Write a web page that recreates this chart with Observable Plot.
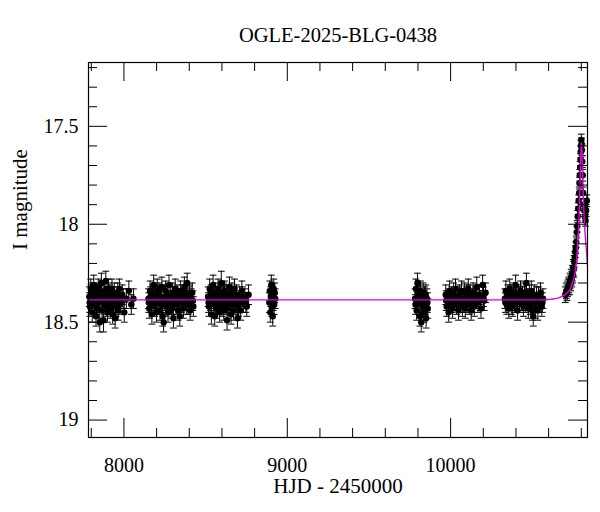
<!DOCTYPE html>
<html><head><meta charset="utf-8">
<script src="https://cdn.jsdelivr.net/npm/d3@7"></script>
<script src="https://cdn.jsdelivr.net/npm/@observablehq/plot@0.6"></script>
<style>
body{margin:0;background:#fff;font-family:"Liberation Serif",serif;}
#wrap{position:relative;width:600px;height:512px;}
#title{position:absolute;left:88px;width:500px;top:25px;line-height:20px;font-size:20.5px;font-family:"Liberation Serif",serif;text-align:center;color:#000;}
</style></head><body>
<div id="wrap"><div id="chart"></div><div id="title">OGLE-2025-BLG-0438</div></div>
<script>
// Observations: [HJD-2450000, I mag, error] triples, per season
const season1 = [7788,18.37,.05, 7792,18.42,.05, 7797,18.33,.05, 7801,18.39,.04, 7806,18.45,.05, 7811,18.36,.05, 7815,18.31,.05, 7820,18.41,.05, 7825,18.35,.04, 7829,18.47,.05, 7834,18.38,.05, 7839,18.43,.05, 7843,18.32,.04, 7848,18.40,.05, 7852,18.50,.05, 7857,18.36,.05, 7862,18.30,.05, 7866,18.44,.05, 7871,18.39,.05, 7875,18.49,.06, 7880,18.34,.05, 7885,18.41,.05, 7889,18.29,.05, 7894,18.37,.04, 7899,18.45,.05, 7903,18.33,.05, 7908,18.40,.05, 7913,18.36,.05, 7917,18.43,.05, 7922,18.38,.05, 7927,18.33,.05, 7931,18.46,.05, 7936,18.40,.05, 7941,18.35,.05, 7946,18.48,.05, 7952,18.42,.05, 7958,18.37,.05, 7965,18.44,.05, 7972,18.33,.05, 7980,18.40,.05, 7990,18.36,.05, 8002,18.45,.05, 8015,18.38,.05, 8030,18.34,.05, 8045,18.41,.05, 8058,18.38,.05,
  7790,18.40,.05, 7799,18.36,.05, 7809,18.40,.05, 7818,18.38,.05, 7832,18.41,.05, 7846,18.35,.05, 7860,18.39,.05, 7878,18.37,.05, 7892,18.42,.05, 7906,18.35,.05, 7920,18.41,.05, 7934,18.37,.05, 7949,18.39,.05, 7962,18.35,.05, 7976,18.41,.05, 7995,18.38,.05];
const season2 = [8150,18.38,.05, 8155,18.43,.05, 8160,18.34,.05, 8166,18.40,.05, 8171,18.46,.05, 8177,18.36,.05, 8182,18.31,.05, 8188,18.42,.05, 8193,18.37,.04, 8199,18.45,.05, 8204,18.33,.05, 8210,18.40,.05, 8215,18.35,.05, 8221,18.44,.05, 8226,18.38,.05, 8232,18.32,.05, 8237,18.47,.05, 8243,18.50,.05, 8248,18.39,.05, 8254,18.34,.05, 8259,18.42,.05, 8265,18.36,.05, 8270,18.45,.05, 8276,18.31,.05, 8281,18.40,.05, 8287,18.37,.05, 8292,18.43,.05, 8298,18.35,.05, 8303,18.48,.05, 8309,18.39,.05, 8314,18.33,.05, 8320,18.41,.05, 8325,18.36,.05, 8331,18.44,.05, 8336,18.38,.05, 8342,18.47,.05, 8347,18.34,.05, 8353,18.40,.05, 8358,18.36,.05, 8364,18.43,.05, 8370,18.32,.05, 8376,18.39,.05, 8382,18.35,.05, 8387,18.30,.05, 8393,18.41,.05, 8399,18.37,.05, 8405,18.44,.05, 8412,18.38,.05, 8418,18.35,.05, 8425,18.42,.05,
  8152,18.40,.05, 8163,18.37,.05, 8185,18.39,.05, 8207,18.36,.05, 8229,18.41,.05, 8251,18.37,.05, 8273,18.39,.05, 8295,18.41,.05, 8317,18.37,.05, 8339,18.40,.05, 8361,18.38,.05, 8384,18.41,.05, 8402,18.36,.05, 8422,18.39,.05];
const season3 = [8515,18.37,.05, 8520,18.42,.05, 8525,18.33,.05, 8530,18.39,.05, 8535,18.46,.05, 8540,18.36,.05, 8546,18.31,.05, 8551,18.41,.05, 8556,18.47,.05, 8561,18.35,.05, 8566,18.43,.05, 8571,18.38,.05, 8576,18.33,.05, 8581,18.40,.05, 8586,18.45,.05, 8591,18.36,.05, 8596,18.30,.06, 8601,18.42,.05, 8606,18.37,.05, 8611,18.44,.05, 8616,18.34,.05, 8621,18.40,.05, 8626,18.36,.05, 8631,18.49,.05, 8636,18.43,.05, 8641,18.38,.05, 8646,18.32,.05, 8651,18.41,.05, 8656,18.46,.05, 8661,18.35,.05, 8666,18.39,.05, 8671,18.44,.05, 8677,18.33,.05, 8683,18.40,.05, 8689,18.36,.05, 8695,18.48,.05, 8701,18.42,.05, 8708,18.37,.05, 8715,18.44,.05, 8722,18.34,.05, 8730,18.40,.05, 8740,18.38,.05, 8752,18.42,.05, 8763,18.36,.05,
  8518,18.40,.05, 8533,18.36,.05, 8549,18.38,.05, 8563,18.41,.05, 8579,18.37,.05, 8594,18.39,.05, 8609,18.35,.05, 8624,18.41,.05, 8639,18.36,.05, 8654,18.39,.05, 8669,18.37,.05, 8686,18.41,.05, 8704,18.39,.05, 8726,18.37,.05, 8746,18.40,.05];
const season4 = [8890,18.40,.05, 8893,18.34,.05, 8896,18.45,.05, 8899,18.37,.05, 8902,18.31,.05, 8905,18.42,.05, 8908,18.36,.05, 8911,18.47,.05, 8914,18.39,.05, 8917,18.33,.05, 8920,18.41,.05, 8923,18.35,.05, 8926,18.38,.05];
const season5 = [9782,18.38,.05, 9787,18.33,.05, 9792,18.44,.05, 9797,18.30,.05, 9802,18.40,.05, 9807,18.36,.05, 9812,18.47,.05, 9816,18.34,.05, 9820,18.50,.05, 9824,18.39,.05, 9828,18.42,.05, 9832,18.35,.05, 9836,18.45,.05, 9840,18.37,.05, 9845,18.41,.05, 9850,18.48,.05, 9855,18.38,.05, 9860,18.43,.05,
  9785,18.41,.05, 9800,18.37,.05, 9818,18.40,.05, 9834,18.39,.05, 9848,18.36,.05, 9858,18.40,.05];
const season6 = [9970,18.36,.05, 9976,18.42,.05, 9982,18.38,.04, 9988,18.45,.05, 9994,18.34,.05, 10000,18.40,.05, 10006,18.37,.05, 10012,18.43,.05, 10018,18.35,.05, 10024,18.39,.05, 10030,18.33,.05, 10036,18.41,.05, 10042,18.37,.05, 10048,18.44,.05, 10054,18.36,.05, 10060,18.40,.05, 10066,18.34,.05, 10072,18.42,.05, 10078,18.38,.05, 10084,18.35,.05, 10090,18.43,.05, 10096,18.37,.05, 10102,18.40,.05, 10108,18.33,.05, 10114,18.41,.05, 10120,18.36,.05, 10126,18.44,.05, 10132,18.38,.05, 10138,18.35,.05, 10145,18.42,.05, 10152,18.37,.05, 10160,18.32,.05, 10168,18.40,.05, 10176,18.36,.05, 10186,18.43,.05, 10196,18.31,.05, 10206,18.39,.05, 10214,18.35,.05,
  9973,18.39,.05, 9991,18.38,.05, 10009,18.40,.05, 10027,18.37,.05, 10045,18.39,.05, 10063,18.38,.05, 10081,18.40,.05, 10099,18.36,.05, 10117,18.39,.05, 10135,18.40,.05, 10156,18.38,.05, 10181,18.39,.05, 10201,18.37,.05];
const season7 = [10332,18.38,.05, 10338,18.34,.05, 10344,18.41,.05, 10350,18.36,.05, 10356,18.43,.05, 10362,18.33,.05, 10368,18.39,.05, 10374,18.36,.05, 10380,18.42,.05, 10386,18.35,.05, 10392,18.40,.05, 10398,18.31,.05, 10404,18.38,.05, 10410,18.44,.05, 10416,18.36,.05, 10422,18.40,.05, 10428,18.34,.05, 10434,18.39,.05, 10440,18.37,.05, 10446,18.42,.05, 10452,18.35,.05, 10458,18.40,.05, 10464,18.30,.05, 10470,18.38,.05, 10476,18.43,.05, 10482,18.36,.05, 10488,18.41,.05, 10494,18.34,.05, 10500,18.44,.05, 10506,18.47,.05, 10512,18.36,.05, 10518,18.43,.05, 10526,18.37,.05, 10534,18.44,.05, 10542,18.40,.05, 10550,18.35,.05, 10558,18.42,.05, 10566,18.38,.05,
  10335,18.40,.05, 10353,18.38,.05, 10371,18.41,.05, 10389,18.37,.05, 10407,18.39,.05, 10425,18.37,.05, 10443,18.39,.05, 10461,18.36,.05, 10479,18.39,.05, 10497,18.38,.05, 10515,18.40,.05, 10538,18.37,.05, 10562,18.40,.05];
const season8 = [10702,18.36,.04, 10708,18.34,.04, 10713,18.35,.04, 10716,18.33,.04, 10720,18.32,.04, 10724,18.31,.04, 10728,18.32,.04, 10731,18.29,.04, 10735,18.30,.04, 10738,18.27,.04, 10742,18.28,.04, 10745,18.25,.04, 10748,18.26,.04, 10751,18.22,.04, 10754,18.23,.04, 10757,18.19,.03, 10760,18.17,.03, 10763,18.14,.03, 10766,18.12,.03, 10769,18.09,.03, 10772,18.04,.03, 10775,18.01,.03, 10778,17.96,.03, 10781,17.92,.03, 10784,17.88,.03, 10787,17.84,.03, 10789,17.79,.03, 10791,17.75,.03, 10793,17.71,.03, 10795,17.67,.03, 10797,17.63,.03, 10798,17.60,.03, 10800,17.57,.03, 10802,17.59,.03, 10804,17.62,.03, 10806,17.68,.03, 10809,17.75,.03, 10812,17.84,.03, 10815,17.90,.03, 10818,17.93,.03, 10822,17.96,.03, 10826,17.98,.03, 10830,17.93,.03, 10834,17.88,.03];

// Model light curve
const modelT = [7780, 10550, 10600, 10640, 10670, 10690, 10705, 10720, 10733, 10745, 10755, 10763, 10769, 10774, 10779, 10784, 10788, 10792, 10795, 10798, 10800, 10802, 10805, 10809, 10813, 10817, 10822, 10827, 10832, 10837, 10842];
const modelM = [18.386, 18.386, 18.384, 18.380, 18.373, 18.365, 18.357, 18.345, 18.330, 18.300, 18.275, 18.240, 18.205, 18.150, 18.080, 18.010, 17.920, 17.800, 17.700, 17.620, 17.585, 17.590, 17.650, 17.760, 17.870, 17.960, 18.030, 18.090, 18.140, 18.200, 18.240];

// Axis ticks
const xMajor = [8000, 9000, 10000];
const xMinor = [7800, 8200, 8400, 8600, 8800, 9200, 9400, 9600, 9800, 10200, 10400, 10600, 10800];
const yMajor = [17.5, 18, 18.5, 19];
const yMinor = [17.2, 17.3, 17.4, 17.6, 17.7, 17.8, 17.9, 18.1, 18.2, 18.3, 18.4, 18.6, 18.7, 18.8, 18.9];

const title = "OGLE-2025-BLG-0438";
const xLabel = "HJD - 2450000";
const yLabel = "I magnitude";

function rows(arr) {
  const out = [];
  for (let i = 0; i < arr.length; i += 3) out.push({t: arr[i], m: arr[i + 1], e: arr[i + 2]});
  return out;
}
const obs = [season1, season2, season3, season4, season5, season6, season7, season8].flatMap(rows);
const model = modelT.map((t, i) => ({t, m: modelM[i]}));

const W = 600, H = 512, mL = 88, mR = 13, mT = 62, mB = 75;
const fw = W - mL - mR, fh = H - mT - mB;
const majLen = 19, minLen = 9;

const cap = {draw(ctx, size) { const w = Math.sqrt(size / Math.PI); ctx.moveTo(-w, 0); ctx.lineTo(w, 0); }};

const plot = Plot.plot({
  width: W, height: H,
  marginLeft: mL, marginRight: mR, marginTop: mT, marginBottom: mB,
  style: {fontFamily: "Liberation Serif, serif", fontSize: "20px", color: "black", background: "white"},
  x: {domain: [7783, 10838]},
  y: {domain: [17.174, 19.089], reverse: true},
  marks: [
    Plot.ruleX(obs, {x: "t", y1: d => d.m - d.e, y2: d => d.m + d.e, stroke: "black", strokeWidth: 1}),
    Plot.dot(obs, {x: "t", y: d => d.m - d.e, symbol: cap, r: 3.4, stroke: "black", fill: "none", strokeWidth: 1}),
    Plot.dot(obs, {x: "t", y: d => d.m + d.e, symbol: cap, r: 3.4, stroke: "black", fill: "none", strokeWidth: 1}),
    Plot.dot(obs, {x: "t", y: "m", r: 3.2, fill: "black", stroke: "none"}),
    Plot.line(model, {x: "t", y: "m", stroke: "#e000e0", strokeWidth: 1.4, curve: "monotone-x", clip: true}),
    Plot.frame({stroke: "black", strokeWidth: 1.2}),
    Plot.tickX(xMajor, {x: d => d, insetBottom: fh - majLen, stroke: "black"}),
    Plot.tickX(xMajor, {x: d => d, insetTop: fh - majLen, stroke: "black"}),
    Plot.tickX(xMinor, {x: d => d, insetBottom: fh - minLen, stroke: "black"}),
    Plot.tickX(xMinor, {x: d => d, insetTop: fh - minLen, stroke: "black"}),
    Plot.tickY(yMajor, {y: d => d, insetRight: fw - majLen, stroke: "black"}),
    Plot.tickY(yMajor, {y: d => d, insetLeft: fw - majLen, stroke: "black"}),
    Plot.tickY(yMinor, {y: d => d, insetRight: fw - minLen, stroke: "black"}),
    Plot.tickY(yMinor, {y: d => d, insetLeft: fw - minLen, stroke: "black"}),
    Plot.axisX({anchor: "bottom", ticks: xMajor, tickSize: 0, tickPadding: 20, tickFormat: d => String(d), label: null, fontSize: 20}),
    Plot.axisY({anchor: "left", ticks: yMajor, tickSize: 0, tickPadding: 10, tickFormat: d => String(d), label: null, fontSize: 20}),
    Plot.text([xLabel], {text: d => d, frameAnchor: "bottom", dy: 49, lineAnchor: "middle", fontSize: 21, fill: "black"}),
    Plot.text([yLabel], {text: d => d, frameAnchor: "left", rotate: -90, dx: -68.5, lineAnchor: "middle", fontSize: 21, fill: "black"})
  ]
});
document.getElementById("chart").appendChild(plot);
document.getElementById("title").textContent = title;
</script>
</body></html>
